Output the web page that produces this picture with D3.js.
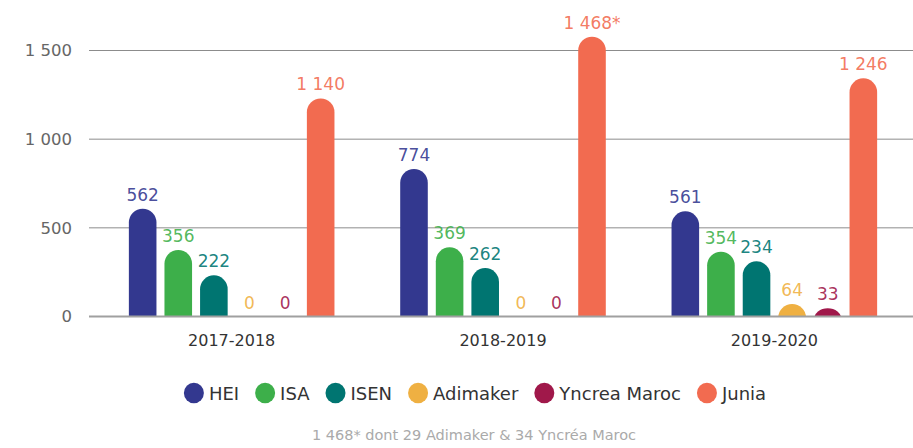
<!DOCTYPE html>
<html>
<head>
<meta charset="utf-8">
<script src="https://cdn.jsdelivr.net/npm/d3@7"></script>
<style>
    body { margin: 0; background: #fff; }
    svg { display: block; font-family: "DejaVu Sans", sans-serif; }
</style>
</head>
<body>
<div id="chart"></div>
<script>
// categories and series
const years = ['2017-2018', '2018-2019', '2019-2020'];
const series = ['HEI', 'ISA', 'ISEN', 'Adimaker', 'Yncrea Maroc', 'Junia'];
const colors = ['#33388f', '#3daf4a', '#007571', '#efb042', '#a0184a', '#f26b50'];

// value labels printed above the bars
const labelsHEI = ['562', '774', '561'];
const labelsISA = ['356', '369', '354'];
const labelsISEN = ['222', '262', '234'];
const labelsAdimaker = ['0', '0', '64'];
const labelsYncrea = ['0', '0', '33'];
const labelsJunia = ['1 140', '1 468*', '1 246'];

// bar heights as drawn in the picture (axis units)
const heightsHEI = [608, 832, 593];
const heightsISA = [375, 390, 365];
const heightsISEN = [232, 273, 311];
const heightsAdimaker = [0, 0, 70];
const heightsYncrea = [0, 0, 46];
const heightsJunia = [1230, 1578, 1343];

const yTicks = [0, 500, 1000, 1500];
const footnote = '1 468* dont 29 Adimaker & 34 Yncréa Maroc';

const allLabels = [labelsHEI, labelsISA, labelsISEN, labelsAdimaker, labelsYncrea, labelsJunia];
const allHeights = [heightsHEI, heightsISA, heightsISEN, heightsAdimaker, heightsYncrea, heightsJunia];

// flatten into one row per bar
let bars = [];
years.forEach((yr, i) => {
    series.forEach((s, j) => {
        bars.push({year: yr, series: s, color: colors[j], label: allLabels[j][i], value: allHeights[j][i]});
    });
});

const width = 913, height = 448;

const svg = d3.select('#chart').append('svg')
    .attr('width', width)
    .attr('height', height);

// scales
const y = d3.scaleLinear()
    .domain([0, 1500])
    .range([316.5, 50.5]);

const x0 = d3.scaleBand()
    .domain(years)
    .range([96, 910]);

const x1 = d3.scaleBand()
    .domain(series)
    .range([-102.8, 102.8])
    .paddingInner(0.225);

const bw = x1.bandwidth();
const r = bw / 2;

// gridlines
svg.append('g')
    .selectAll('line')
    .data(yTicks.filter(d => d > 0))
    .enter()
    .append('line')
    .attr('x1', 89)
    .attr('x2', width)
    .attr('y1', d => y(d))
    .attr('y2', d => y(d))
    .attr('stroke', '#8c8c8c')
    .attr('stroke-width', 1);

// y tick labels
svg.append('g')
    .selectAll('text')
    .data(yTicks)
    .enter()
    .append('text')
    .attr('x', 72)
    .attr('y', d => y(d))
    .attr('dy', '0.36em')
    .attr('text-anchor', 'end')
    .attr('font-size', 16.5)
    .attr('fill', '#666')
    .text(d => d3.format(',')(d).replace(',', ' '));

// clip so rounded bars sit flat on the baseline
svg.append('clipPath')
    .attr('id', 'plotClip')
    .append('rect')
    .attr('x', 0)
    .attr('y', 0)
    .attr('width', width)
    .attr('height', y(0));

const barGroup = svg.append('g').attr('clip-path', 'url(#plotClip)');

barGroup.selectAll('rect')
    .data(bars.filter(d => d.value > 0))
    .enter()
    .append('rect')
    .attr('x', d => x0(d.year) + x0.bandwidth() / 2 + x1(d.series))
    .attr('y', d => y(d.value))
    .attr('width', bw)
    .attr('height', d => y(0) - y(d.value) + r)
    .attr('rx', r)
    .attr('ry', r)
    .attr('fill', d => d.color);

// baseline
svg.append('line')
    .attr('x1', 89)
    .attr('x2', width)
    .attr('y1', y(0))
    .attr('y2', y(0))
    .attr('stroke', '#a0a0a0')
    .attr('stroke-width', 2);

// value labels
svg.append('g')
    .selectAll('text')
    .data(bars)
    .enter()
    .append('text')
    .attr('x', d => x0(d.year) + x0.bandwidth() / 2 + x1(d.series) + bw / 2)
    .attr('y', d => y(d.value) - 8)
    .attr('text-anchor', 'middle')
    .attr('font-size', 17)
    .attr('fill', d => d.color)
    .attr('fill-opacity', 0.9)
    .text(d => d.label);

// category labels
svg.append('g')
    .selectAll('text')
    .data(years)
    .enter()
    .append('text')
    .attr('x', d => x0(d) + x0.bandwidth() / 2)
    .attr('y', 346)
    .attr('text-anchor', 'middle')
    .attr('font-size', 16)
    .attr('fill', '#333')
    .text(d => d);

// legend
const legend = svg.append('g');
let lx = 0;
series.forEach((s, j) => {
    let item = legend.append('g').attr('transform', `translate(${lx},0)`);
    item.append('ellipse')
        .attr('cx', 10)
        .attr('cy', 393)
        .attr('rx', 10)
        .attr('ry', 10.3)
        .attr('fill', colors[j]);
    let t = item.append('text')
        .attr('x', 25)
        .attr('y', 399.5)
        .attr('font-size', 18)
        .attr('fill', '#333')
        .text(s);
    lx += 25 + t.node().getComputedTextLength() + 16;
});
lx -= 16;
legend.attr('transform', `translate(${475 - lx / 2},0)`);

// footnote
svg.append('text')
    .attr('x', 474)
    .attr('y', 439.5)
    .attr('text-anchor', 'middle')
    .attr('font-size', 14.5)
    .attr('fill', '#aaa')
    .text(footnote);
</script>
</body>
</html>
